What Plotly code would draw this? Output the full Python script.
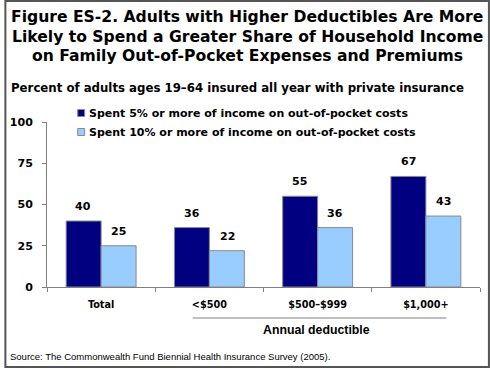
import plotly.graph_objects as go

categories = ["Total", "<$500", "$500\u2013$999", "$1,000+"]
series_names = ["Spent 5% or more of income on out-of-pocket costs",
                "Spent 10% or more of income on out-of-pocket costs"]
spent5 = [40, 36, 55, 67]
spent10 = [25, 22, 36, 43]
y_ticks = [0, 25, 50, 75, 100]
colors = ["#000080", "#99CCFF"]

W, H = 490, 368
L, R, T, B = 43, 10, 122, 81
PW = W - L - R
PH = H - T - B
FONT = "Liberation Sans, Arial, sans-serif"
BOLD = "DejaVu Sans, Verdana, sans-serif"


def px(x):
    return (x - L) / PW


def py(y):
    return (H - B - y) / PH


fig = go.Figure()
for name, vals, col in zip(series_names, [spent5, spent10], colors):
    fig.add_trace(go.Bar(
        x=categories, y=vals, name=name,
        marker=dict(color=col, line=dict(color="#8a8a8a", width=1)),
        showlegend=False, hoverinfo="x+y",
    ))

annotations = []
# data labels
half = 0.5 * PW / len(categories) * (1 - 0.354) / 2
for vals, shift in [(spent5, -half), (spent10, half)]:
    for c, v in zip(categories, vals):
        annotations.append(dict(
            x=c, y=v, xref="x", yref="y", text=f"<b>{v}</b>", showarrow=False,
            xshift=shift, yshift=6, yanchor="bottom",
            font=dict(family=BOLD, size=11, color="black")))

# titles
title_lines = ["Figure ES-2. Adults with Higher Deductibles Are More",
               "Likely to Spend a Greater Share of Household Income",
               "on Family Out-of-Pocket Expenses and Premiums"]
for line, yc in zip(title_lines, [16.5, 36.5, 56]):
    annotations.append(dict(x=px(245), y=py(yc), xref="paper", yref="paper",
                            text=f"<b>{line}</b>", showarrow=False,
                            xanchor="center", yanchor="middle",
                            font=dict(family=BOLD, size=15.6, color="black")))

annotations.append(dict(x=px(5), y=py(88), xref="paper", yref="paper",
                        text="<b>Percent of adults ages 19\u201364 insured all year with private insurance</b>",
                        showarrow=False, xanchor="left", yanchor="middle",
                        font=dict(family=BOLD, size=11.75, color="black")))

# manual legend
shapes = []
for i, (name, col) in enumerate(zip(series_names, colors)):
    yc = 113 + 19 * i
    shapes.append(dict(type="rect", xref="paper", yref="paper",
                       x0=px(74), x1=px(81), y0=py(yc + 3.5), y1=py(yc - 3.5),
                       fillcolor=col, line=dict(color="#8a8a8a", width=1)))
    annotations.append(dict(x=px(83), y=py(yc), xref="paper", yref="paper",
                            text=f"<b>{name}</b>", showarrow=False,
                            xanchor="left", yanchor="middle",
                            font=dict(family=BOLD, size=11, color="black")))

# annual deductible bracket
shapes.append(dict(type="line", xref="paper", yref="paper",
                   x0=px(190), x1=px(446), y0=py(318), y1=py(318),
                   line=dict(color="#808080", width=1)))
annotations.append(dict(x=px(315), y=py(330), xref="paper", yref="paper",
                        text="<b>Annual deductible</b>", showarrow=False,
                        xanchor="center", yanchor="middle",
                        font=dict(family=FONT, size=12.3, color="black")))

annotations.append(dict(x=px(4), y=py(356), xref="paper", yref="paper",
                        text="Source: The Commonwealth Fund Biennial Health Insurance Survey (2005).",
                        showarrow=False, xanchor="left", yanchor="middle",
                        font=dict(family=FONT, size=9.5, color="black")))

# outer border
shapes.append(dict(type="rect", xref="paper", yref="paper",
                   x0=px(1), x1=px(489), y0=py(367), y1=py(1),
                   line=dict(color="#555555", width=2), fillcolor="rgba(0,0,0,0)"))

fig.update_layout(
    width=W, height=H,
    margin=dict(l=L, r=R, t=T, b=B, pad=0),
    paper_bgcolor="white", plot_bgcolor="white",
    barmode="group", bargap=0.354, bargroupgap=0,
    annotations=annotations, shapes=shapes,
    showlegend=False,
    font=dict(family=FONT, color="black"),
)
fig.update_xaxes(
    type="category", showline=True, linecolor="#808080", linewidth=1,
    ticks="outside", tickson="boundaries", ticklen=4, tickcolor="#808080",
    ticklabelstandoff=8, showgrid=False,
    tickfont=dict(family=BOLD, size=9.7, weight="bold", color="black"),
)
fig.update_yaxes(
    range=[0, 100], tickvals=y_ticks, showline=True, linecolor="#808080", linewidth=1,
    ticks="outside", ticklen=4, tickcolor="#808080", showgrid=False, zeroline=False,
    ticklabelstandoff=7,
    tickfont=dict(family=BOLD, size=11, weight="bold", color="black"),
)

fig.write_html("out.html", config={"displayModeBar": False},
               post_script="document.body.style.margin='0';document.body.style.overflow='hidden';")
